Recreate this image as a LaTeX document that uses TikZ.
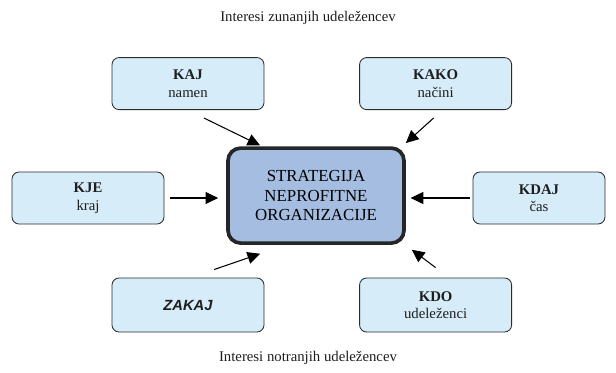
\documentclass[tikz,border=0pt]{standalone}
\usepackage{fontspec}
\setmainfont{Liberation Serif}
\newfontfamily\arialfont{Liberation Sans}
\usetikzlibrary{arrows.meta, calc}
\definecolor{boxblue}{HTML}{D6ECF9}
\definecolor{coreblue}{HTML}{A4BDE1}
\definecolor{edgedark}{HTML}{2B2B2B}
\definecolor{textdark}{HTML}{1E1E1E}

\begin{document}
\begin{tikzpicture}[
    font=\fontsize{10.5}{12.5}\selectfont\color{textdark},
    qbox/.style={draw=edgedark, line width=0.6pt, fill=boxblue, rounded corners=5pt,
                 align=center, inner sep=0pt, minimum width=3.8cm, minimum height=1.3cm},
    corebox/.style={draw=black!85, line width=2.6pt, fill=coreblue, rounded corners=9pt,
                    align=center, inner sep=0pt, minimum width=4.4cm, minimum height=2.375cm},
    arr/.style={-{Triangle[length=9pt,width=8.5pt]}, line width=0.75pt, black}
]
    \useasboundingbox (0,0) rectangle (15.4,-9.325);

    % Outer labels
    \node (zun) at (7.7,-0.45) {Interesi zunanjih udeležencev};
    \node (not) at (7.7,-8.95) {Interesi notranjih udeležencev};

    % Central box
    \node[corebox, font=\fontsize{12}{14}\selectfont] (strat) at (7.9,-4.89)
        {STRATEGIJA\\NEPROFITNE\\ORGANIZACIJE};

    % Question boxes
    \node[qbox] (kaj) at (4.7,-2.09) {\textbf{KAJ}\\namen};
    \node[qbox] (kako) at (10.89,-2.09) {\textbf{KAKO}\\načini};
    \node[qbox] (kje) at (2.2,-4.95) {\textbf{KJE}\\kraj};
    \node[qbox, minimum width=3.3cm] (kdaj) at (13.475,-4.95) {\textbf{KDAJ}\\čas};
    \node[qbox, minimum height=1.35cm] (zakaj) at (4.7,-7.625)
        {\raisebox{-1.2ex}{\arialfont\bfseries\itshape ZAKAJ}};
    \node[qbox, minimum height=1.35cm] (kdo) at (10.89,-7.625) {\textbf{KDO}\\udeleženci};

    % Arrows into the strategy
    \draw[arr] ($(kaj.south)+(0.4,-0.2)$) -- ($(strat.north west)+(0.85,0.02)$);
    \draw[arr] ($(kako.south)+(-0.05,-0.2)$) -- ($(strat.north east)+(0,0.08)$);
    \draw[arr] ($(kje.east)+(0.15,0)$) -- ($(kje.east -| strat.west)+(-0.2,0)$);
    \draw[arr] ($(kdaj.west)+(-0.075,0)$) -- ($(kdaj.west -| strat.east)+(0.12,0)$);
    \draw[arr] ($(zakaj.north)+(0.65,0.2)$) -- ($(strat.south west)+(0.85,-0.22)$);
    \draw[arr] ($(kdo.north)+(0,0.25)$) -- ($(strat.south east)+(0.15,-0.12)$);
\end{tikzpicture}
\end{document}
